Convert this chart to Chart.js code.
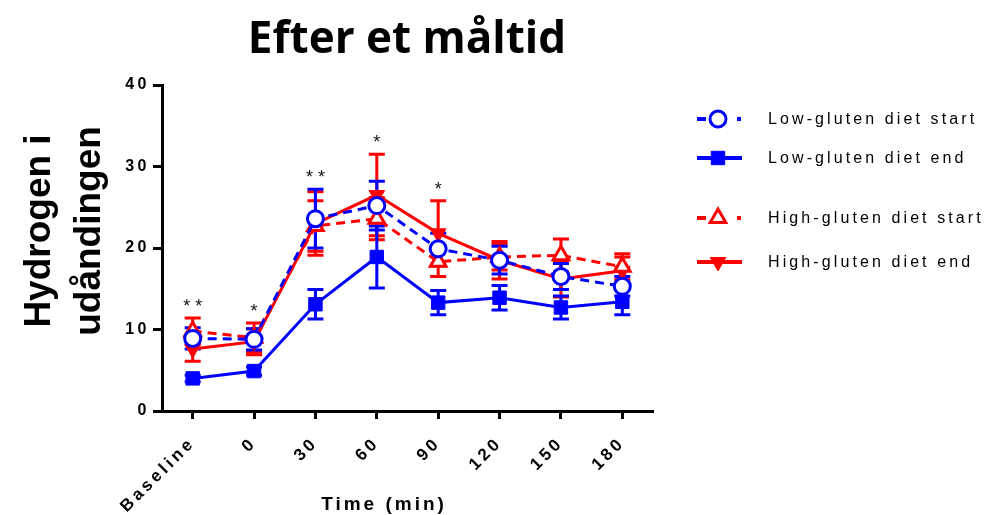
<!DOCTYPE html>
<html>
<head>
<meta charset="utf-8">
<script src="https://cdn.jsdelivr.net/npm/chart.js@4"></script>
<style>
html,body{margin:0;padding:0;background:#fff;}
#wrap{position:relative;width:990px;height:515px;}
</style>
</head>
<body>
<div id="wrap"><canvas id="c" width="990" height="515"></canvas></div>
<script>
const categories = ['Baseline', '0', '30', '60', '90', '120', '150', '180'];
const lowStart    = [8.9, 8.8, 23.6, 25.2, 19.9, 18.5, 16.5, 15.3];
const lowStartErr = [1.3, 1.3, 3.6, 3.0, 1.9, 1.7, 1.6, 1.2];
const lowEnd      = [4.0, 4.9, 13.1, 18.9, 13.3, 13.9, 12.7, 13.4];
const lowEndErr   = [0.4, 0.5, 1.8, 3.8, 1.5, 1.5, 1.4, 1.6];
const highStart   = [9.8, 9.0, 22.7, 23.6, 18.3, 18.9, 19.1, 17.7];
const highStartErr= [1.6, 1.8, 3.1, 2.6, 1.8, 1.6, 2.0, 1.6];
const highEnd     = [7.6, 8.5, 23.0, 26.5, 21.8, 18.5, 16.2, 17.2];
const highEndErr  = [1.5, 1.6, 3.9, 5.0, 4.0, 2.3, 2.2, 1.7];
const stars = ['* *', '*', '* *', '*', '*', '', '', ''];
const yTicks = [0, 10, 20, 30, 40];
const seriesNames = ['Low-gluten diet start', 'Low-gluten diet end', 'High-gluten diet start', 'High-gluten diet end'];

const BLUE = '#0000ff', RED = '#ff0000';
const errs = [lowStartErr, lowEndErr, highStartErr, highEndErr];

const datasets = [
  {label: seriesNames[0], data: lowStart, borderColor: BLUE, backgroundColor: '#fff', borderDash: [9, 6],
   pointStyle: 'circle', pointRadius: 8, pointBorderWidth: 3, pointBackgroundColor: '#fff', pointBorderColor: BLUE},
  {label: seriesNames[1], data: lowEnd, borderColor: BLUE, backgroundColor: BLUE, borderDash: [],
   pointStyle: 'rect', pointRadius: 9.5, pointBorderWidth: 1, pointBackgroundColor: BLUE, pointBorderColor: BLUE},
  {label: seriesNames[2], data: highStart, borderColor: RED, backgroundColor: '#fff', borderDash: [9, 6],
   pointStyle: 'triangle', pointRadius: 9, pointBorderWidth: 3, pointBackgroundColor: '#fff', pointBorderColor: RED},
  {label: seriesNames[3], data: highEnd, borderColor: RED, backgroundColor: RED, borderDash: [],
   pointStyle: 'triangle', pointRotation: 180, pointRadius: 9, pointBorderWidth: 1, pointBackgroundColor: RED, pointBorderColor: RED}
];
datasets.forEach(d => { d.borderWidth = 3; d.tension = 0; d.fill = false; d.pointHoverRadius = d.pointRadius; });

const errorBars = {
  id: 'errorBars',
  beforeDatasetsDraw(chart) {
    const ctx = chart.ctx, x = chart.scales.x, y = chart.scales.y;
    ctx.save();
    for (let i = datasets.length - 1; i >= 0; i--) {
      const d = datasets[i];
      ctx.strokeStyle = d.borderColor; ctx.lineWidth = 3; ctx.setLineDash([]);
      d.data.forEach((v, j) => {
        const e = errs[i][j];
        const px = x.getPixelForValue(j);
        const top = y.getPixelForValue(v + e), bot = y.getPixelForValue(v - e);
        ctx.beginPath();
        ctx.moveTo(px, top); ctx.lineTo(px, bot);
        ctx.moveTo(px - 8, top); ctx.lineTo(px + 8, top);
        ctx.moveTo(px - 8, bot); ctx.lineTo(px + 8, bot);
        ctx.stroke();
      });
    }
    ctx.restore();
  }
};

const spacing = {
  id: 'spacing',
  beforeDraw(chart) { chart.ctx.letterSpacing = '3.5px'; }
};

const extras = {
  id: 'extras',
  afterDraw(chart) {
    const ctx = chart.ctx, x = chart.scales.x, y = chart.scales.y;
    ctx.save();
    ctx.fillStyle = '#000';
    // Title
    ctx.letterSpacing = '0px';
    ctx.font = 'bold 44px "Open Sans"';
    ctx.textAlign = 'center'; ctx.textBaseline = 'alphabetic';
    ctx.fillText('Efter et måltid', 407, 53);
    // Y title
    ctx.save();
    ctx.translate(0, 231);
    ctx.rotate(-Math.PI / 2);
    ctx.font = 'bold 37px "Liberation Sans"';
    ctx.textAlign = 'center';
    ctx.fillText('Hydrogen i', 0, 50);
    ctx.fillText('udåndingen', 0, 100);
    ctx.restore();
    // X title
    ctx.letterSpacing = '3px';
    ctx.font = 'bold 19px "Liberation Sans"';
    ctx.textAlign = 'center';
    ctx.fillText('Time (min)', 384, 510);
    // stars
    ctx.letterSpacing = '0px';
    ctx.font = '18px "Liberation Sans"';
    ctx.fillStyle = '#111';
    stars.forEach((s, j) => {
      if (!s) return;
      let mx = -Infinity;
      datasets.forEach((d, i) => { mx = Math.max(mx, d.data[j] + errs[i][j]); });
      ctx.fillText(s, x.getPixelForValue(j), y.getPixelForValue(mx) - 6);
    });
    // legend
    const rows = [119, 158, 218, 262];
    datasets.forEach((d, i) => {
      const cy = rows[i];
      ctx.save();
      ctx.strokeStyle = d.borderColor; ctx.lineWidth = 4;
      if (d.borderDash.length) {
        ctx.beginPath(); ctx.moveTo(697, cy); ctx.lineTo(706, cy); ctx.stroke();
        ctx.beginPath(); ctx.moveTo(737, cy); ctx.lineTo(741, cy); ctx.stroke();
      } else {
        ctx.beginPath(); ctx.moveTo(697, cy); ctx.lineTo(742, cy); ctx.stroke();
      }
      ctx.fillStyle = d.pointBackgroundColor; ctx.strokeStyle = d.pointBorderColor; ctx.lineWidth = d.pointBorderWidth;
      Chart.helpers.drawPoint(ctx, {
        pointStyle: d.pointStyle, rotation: d.pointRotation || 0, radius: d.pointRadius,
        borderWidth: d.pointBorderWidth
      }, 718, cy);
      ctx.restore();
      ctx.fillStyle = '#000';
      ctx.letterSpacing = '3.1px';
      ctx.font = '16px "Liberation Sans"';
      ctx.textAlign = 'left'; ctx.textBaseline = 'middle';
      ctx.fillText(d.label, 768, cy + 1);
    });
    ctx.restore();
  }
};

new Chart(document.getElementById('c'), {
  type: 'line',
  data: {labels: categories, datasets: datasets},
  plugins: [spacing, errorBars, extras],
  options: {
    responsive: false,
    animation: false,
    events: [],
    layout: {padding: {left: 0, right: 337, top: 85, bottom: 0}},
    plugins: {legend: {display: false}, title: {display: false}, tooltip: {enabled: false}},
    scales: {
      x: {
        type: 'category',
        offset: true,
        grid: {display: true, drawOnChartArea: false, drawTicks: true, tickLength: 8, tickWidth: 3, tickColor: '#000', offset: false},
        border: {display: true, color: '#000', width: 3},
        ticks: {color: '#000', font: {family: 'Liberation Sans', weight: 'bold', size: 17}, maxRotation: 45, minRotation: 45, padding: 14, autoSkip: false},
        afterFit(s) { s.height = 104; }
      },
      y: {
        min: 0, max: 40,
        afterBuildTicks(s) { s.ticks = yTicks.map(v => ({value: v})); },
        grid: {display: true, drawOnChartArea: false, drawTicks: true, tickLength: 9, tickWidth: 3, tickColor: '#000'},
        border: {display: true, color: '#000', width: 3},
        ticks: {color: '#000', font: {family: 'Liberation Sans', weight: 'bold', size: 16}, padding: 3},
        afterFit(s) { s.width = 162; }
      }
    }
  }
});
</script>
</body>
</html>
